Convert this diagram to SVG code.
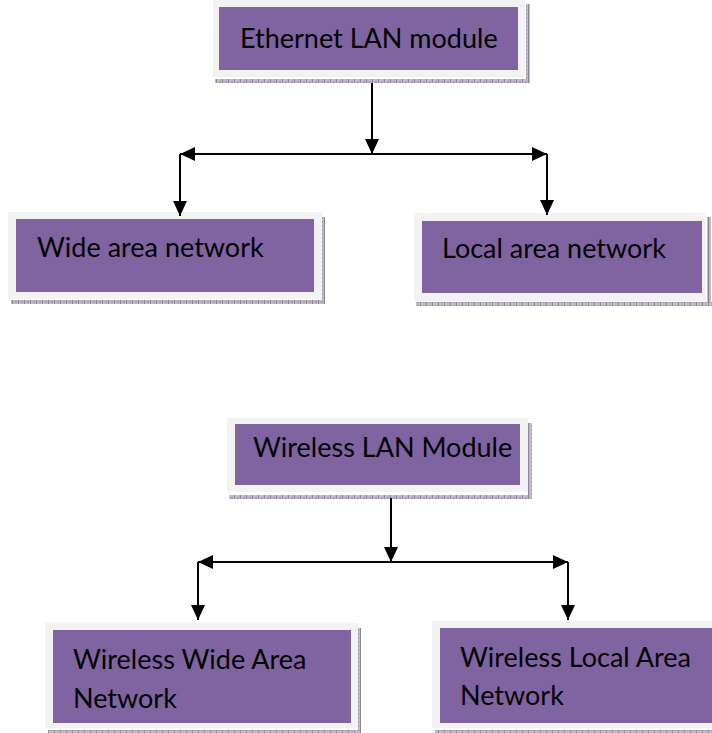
<svg xmlns="http://www.w3.org/2000/svg" width="712" height="733" viewBox="0 0 712 733">
  <style>
    .frame { fill: #f2f2f2; }
    .box { fill: #8064a2; }
    .shadow { fill: url(#hatch); }
    .label { font-family: Lato, "Open Sans", "Liberation Sans", sans-serif; font-size: 27px; fill: #000000; }
    .conn { stroke: #000000; stroke-width: 2; fill: none; }
  </style>
  <defs>
    <pattern id="hatch" width="6" height="4" patternUnits="userSpaceOnUse">
      <rect width="6" height="4" fill="#c2bac8"/>
      <rect x="0" y="0" width="1" height="4" fill="#8d8494"/>
      <rect x="3" y="1" width="2" height="2" fill="#a59cab"/>
    </pattern>
    <marker id="arrow" viewBox="0 0 15 14" refX="15" refY="7" markerWidth="15" markerHeight="14" markerUnits="userSpaceOnUse" orient="auto-start-reverse">
      <path d="M0,0 L15,7 L0,14 z" fill="#000000"/>
    </marker>
  </defs>
  <rect width="712" height="733" fill="#ffffff"/>

  <g id="ethernet-lan-module">
    <rect class="shadow" x="215" y="79" width="315" height="4"/>
    <rect class="shadow" x="526" y="4" width="4" height="79"/>
    <rect class="frame" x="213" y="0" width="312" height="77"/>
    <rect class="box" x="219" y="7" width="299" height="63"/>
    <text class="label" x="240" y="48">Ethernet LAN module</text>
  </g>

  <g id="wide-area-network">
    <rect class="shadow" x="11" y="300" width="314" height="4"/>
    <rect class="shadow" x="322" y="217" width="3" height="87"/>
    <rect class="frame" x="8" y="212" width="314" height="87"/>
    <rect class="box" x="16" y="219" width="298" height="73"/>
    <text class="label" x="37" y="257">Wide area network</text>
  </g>

  <g id="local-area-network">
    <rect class="shadow" x="416" y="302" width="296" height="4"/>
    <rect class="shadow" x="707" y="217" width="4" height="89"/>
    <rect class="frame" x="414" y="213" width="292" height="88"/>
    <rect class="box" x="422" y="221" width="280" height="72"/>
    <text class="label" x="442" y="258">Local area network</text>
  </g>

  <g id="wireless-lan-module">
    <rect class="shadow" x="229" y="495" width="303" height="4"/>
    <rect class="shadow" x="528" y="423" width="4" height="76"/>
    <rect class="frame" x="227" y="418" width="301" height="74"/>
    <rect class="box" x="235" y="424" width="285" height="61"/>
    <text class="label" x="253" y="457">Wireless LAN Module</text>
  </g>

  <g id="wireless-wide-area-network">
    <rect class="shadow" x="48" y="730" width="313" height="3"/>
    <rect class="shadow" x="358" y="628" width="3" height="105"/>
    <rect class="frame" x="45" y="623" width="313" height="105"/>
    <rect class="box" x="53" y="630" width="298" height="93"/>
    <text class="label" x="73" y="669">Wireless Wide Area</text>
    <text class="label" x="73" y="708">Network</text>
  </g>

  <g id="wireless-local-area-network">
    <rect class="shadow" x="435" y="730" width="277" height="3"/>
    <rect class="frame" x="432" y="621" width="280" height="107"/>
    <rect class="box" x="440" y="628" width="272" height="95"/>
    <text class="label" x="460" y="667">Wireless Local Area</text>
    <text class="label" x="460" y="705">Network</text>
  </g>

  <g id="connectors">
    <line class="conn" x1="372" y1="83" x2="372" y2="154" marker-end="url(#arrow)"/>
    <line class="conn" x1="180" y1="154" x2="547" y2="154" marker-start="url(#arrow)" marker-end="url(#arrow)"/>
    <line class="conn" x1="180" y1="154" x2="180" y2="216" marker-end="url(#arrow)"/>
    <line class="conn" x1="547" y1="154" x2="547" y2="215" marker-end="url(#arrow)"/>

    <line class="conn" x1="391" y1="498" x2="391" y2="562" marker-end="url(#arrow)"/>
    <line class="conn" x1="198" y1="562" x2="568" y2="562" marker-start="url(#arrow)" marker-end="url(#arrow)"/>
    <line class="conn" x1="198" y1="562" x2="198" y2="620" marker-end="url(#arrow)"/>
    <line class="conn" x1="568" y1="562" x2="568" y2="620" marker-end="url(#arrow)"/>
  </g>
</svg>
